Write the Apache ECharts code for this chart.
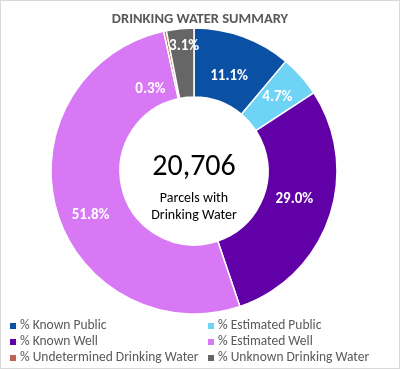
<!DOCTYPE html>
<html><head><meta charset="utf-8">
<script src="https://cdn.jsdelivr.net/npm/echarts@6/dist/echarts.min.js"></script>
<style>
html,body{margin:0;padding:0;background:#fff;}
#c{width:400px;height:369px;box-sizing:border-box;border:1px solid #d9d9d9;}
</style></head>
<body><div id="c"></div>
<script>
const categories = ['% Known Public','% Estimated Public','% Known Well','% Estimated Well','% Undetermined Drinking Water','% Unknown Drinking Water'];
const values = [11.1, 4.7, 29.0, 51.8, 0.3, 3.1];
const colors = ['#0a50a4','#6fd3f5','#6000a6','#d878f5','#c0605a','#666666'];
const totalParcels = '20,706';
const centerLabel = ['Parcels with','Drinking Water'];
const title = 'DRINKING WATER SUMMARY';

const labelShift = {4:[-21,27], 5:[1,-14], 0:[-3,10], 2:[-5,-8], 3:[4,14]};

const chart = echarts.init(document.getElementById('c'));
const font = 'Carlito, "Open Sans", "Liberation Sans", sans-serif';
const legendCommon = {orient:'vertical',top:318,height:60,padding:0,itemWidth:8,itemHeight:8,itemGap:2,icon:'rect',
  textStyle:{fontSize:13.5,lineHeight:14,color:'#595959',fontFamily:font,padding:[0,0,0,-2]}};
chart.setOption({
  animation:false,
  title:{text:title,left:'center',top:6,textStyle:{fontSize:14.5,fontWeight:'bold',color:'#595959',fontFamily:font}},
  legend:[
    Object.assign({data:[categories[0],categories[2],categories[4]],left:7},legendCommon),
    Object.assign({data:[categories[1],categories[3],categories[5]],left:205},legendCommon)
  ],
  graphic:[
    {type:'text',x:193,y:166,style:{text:totalParcels,fontSize:30,fill:'#000',fontFamily:font,align:'center',verticalAlign:'middle'}},
    {type:'text',x:193,y:206,style:{text:centerLabel.join('\n'),fontSize:14,lineHeight:17,fill:'#000',fontFamily:font,align:'center',verticalAlign:'middle'}}
  ],
  series:[{
    type:'pie',
    center:[193,170],
    radius:[74,143],
    startAngle:90,
    clockwise:true,
    avoidLabelOverlap:false,
    itemStyle:{borderColor:'#fff',borderWidth:1.5},
    label:{show:true,position:'inside',formatter:p=>p.value.toFixed(1)+'%',color:'#fff',fontWeight:'bold',fontSize:15,fontFamily:font},
    labelLayout:function(p){const s=labelShift[p.dataIndex];return s?{dx:s[0],dy:s[1]}:{};},
    emphasis:{disabled:true},
    data:categories.map((n,i)=>({name:n,value:values[i],itemStyle:{color:colors[i]}}))
  }]
});
</script></body></html>
